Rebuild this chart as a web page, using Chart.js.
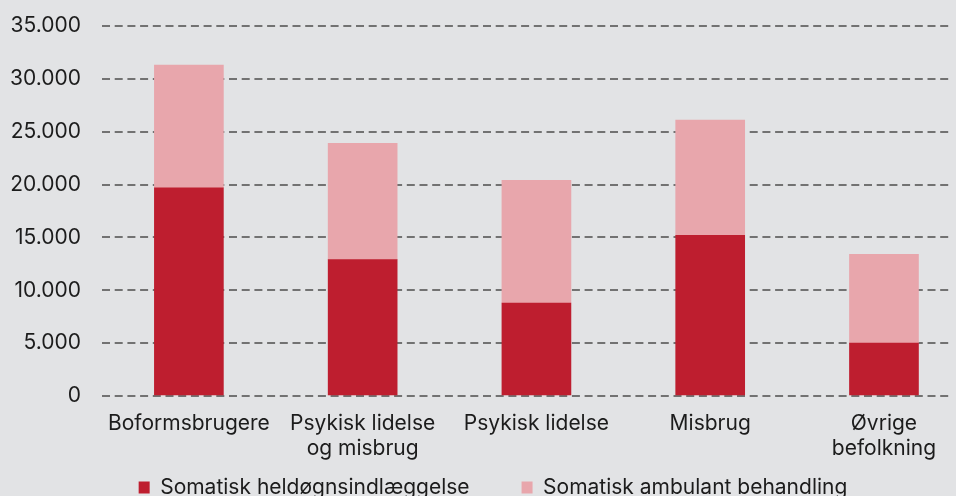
<!DOCTYPE html>
<html>
<head>
<meta charset="utf-8">
<script src="https://cdn.jsdelivr.net/npm/chart.js@4.4.1/dist/chart.umd.min.js"></script>
<style>
  html, body { margin: 0; padding: 0; background: #e2e3e5; }
  #wrap { width: 956px; height: 496px; position: relative; }
</style>
</head>
<body>
<div id="wrap"><canvas id="myChart"></canvas></div>
<script>
// data
var kategorier = ['Boformsbrugere', ['Psykisk lidelse', 'og misbrug'], 'Psykisk lidelse', 'Misbrug', ['Øvrige', 'befolkning']]
var heldogn = [19700, 12900, 8800, 15200, 5000]
var ambulant = [11600, 11000, 11600, 10900, 8400]
var serier = ['Somatisk heldøgnsindlæggelse', 'Somatisk ambulant behandling']
var yTicks = [0, 5000, 10000, 15000, 20000, 25000, 30000, 35000]

const tusind = (v) => String(v).replace(/\B(?=(\d{3})+(?!\d))/g, '.')

// flytter legenden lidt til hoejre, som i originalen
const legendShift = {
    id: 'legendShift',
    afterLayout: (chart) => {
        chart.legend.left += 18
        chart.legend.right += 18
    }
}

Chart.defaults.font.family = 'Inter'
Chart.defaults.font.size = 21
Chart.defaults.color = '#1c1c1c'

var ctx = document.getElementById('myChart')
var myChart = new Chart(ctx, {
    type: 'bar',
    data: {
        datasets: [{
            label: serier[0],
            data: heldogn.map((v, i) => ({ x: i, y: v })),
            backgroundColor: '#be1e2f',
            barThickness: 69
        }, {
            label: serier[1],
            data: ambulant.map((v, i) => ({ x: i, y: v })),
            backgroundColor: '#e8a6ac',
            barThickness: 69
        }]
    },
    plugins: [legendShift],
    options: {
        responsive: true,
        maintainAspectRatio: false,
        animation: false,
        layout: { padding: { top: 26, left: 0, right: 6, bottom: -12 } },
        plugins: {
            tooltip: { enabled: false },
            legend: {
                position: 'bottom',
                labels: {
                    boxWidth: 11,
                    boxHeight: 12,
                    padding: 52,
                    font: { size: 21 }
                }
            }
        },
        scales: {
            x: {
                type: 'linear',
                stacked: true,
                offset: false,
                min: -0.5,
                max: 4.38,
                grid: { display: false },
                border: { display: false },
                afterBuildTicks: (s) => { s.ticks = kategorier.map((k, i) => ({ value: i })) },
                afterFit: (s) => { s.height = 29 },
                ticks: {
                    autoSkip: false,
                    maxRotation: 0,
                    mirror: true,
                    padding: -40,
                    font: { size: 21, lineHeight: 1.2 },
                    callback: (v) => kategorier[v]
                }
            },
            y: {
                stacked: true,
                min: 0,
                max: 35000,
                afterBuildTicks: (s) => { s.ticks = yTicks.map(v => ({ value: v })) },
                afterFit: (s) => { s.width = 102 },
                grid: { color: '#727272', lineWidth: 2, drawTicks: true, tickLength: 21, tickColor: 'transparent' },
                border: { display: false, dash: [8, 4.7] },
                ticks: {
                    padding: 0,
                    callback: (v) => tusind(v)
                }
            }
        }
    }
})
</script>
</body>
</html>
